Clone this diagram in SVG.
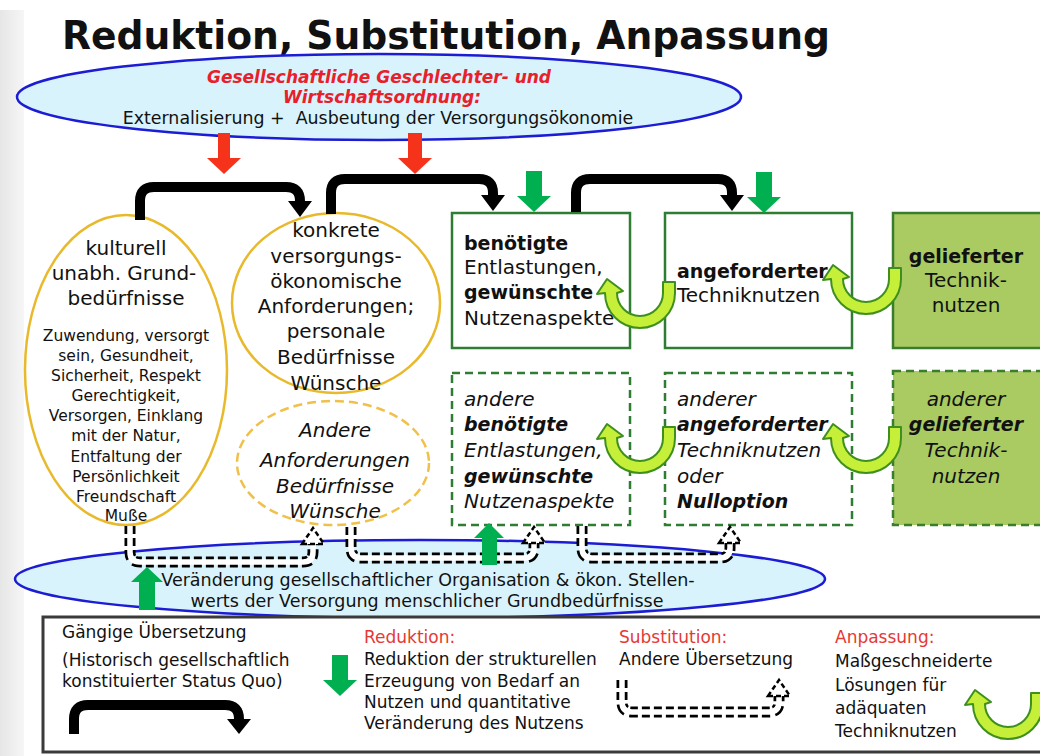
<svg xmlns="http://www.w3.org/2000/svg" width="1040" height="756" viewBox="0 0 1040 756">
<style>
text{font-family:"DejaVu Sans",Verdana,sans-serif;fill:#111}
.t20{font-size:20px}
.b19{font-size:19px;font-weight:bold}
.i20{font-size:20px;font-style:italic}
.bi19{font-size:19px;font-weight:bold;font-style:italic}
.s15{font-size:15.5px}
.lg{font-size:17px}
.red{fill:#e53935}
.mid{text-anchor:middle}
.ell{fill:#d8f3fc;stroke:#1c1cd4;stroke-width:2.5}
.gold{fill:#fff;stroke:#e9b92c;stroke-width:2.5}
.goldd{fill:#fff;stroke:#f0c04a;stroke-width:2.5;stroke-dasharray:9 5}
.box{fill:#fff;stroke:#2e7d32;stroke-width:2.5}
.boxd{fill:#fff;stroke:#2e7d32;stroke-width:2.5;stroke-dasharray:8 5}
.boxf{fill:#a9cb61;stroke:#3a7d2c;stroke-width:2.5}
.boxfd{fill:#a9cb61;stroke:#3a7d2c;stroke-width:2.5;stroke-dasharray:8 5}
.blk{fill:none;stroke:#000;stroke-width:10;stroke-linejoin:round}
.blkh{fill:#000}
.dsho{fill:none;stroke:#000;stroke-width:11;stroke-dasharray:8 4}
.dshi{fill:none;stroke:#fff;stroke-width:5.5}
.dshh{fill:#fff;stroke:#000;stroke-width:2.5;stroke-dasharray:5 3}
.grn{fill:#00b050}
.rd{fill:#f5331b}
.u{fill:#c6ef3a;stroke:#3f8f1f;stroke-width:2;stroke-linejoin:round}
</style>
<defs>
<linearGradient id="lg" x1="0" y1="0" x2="1" y2="0">
<stop offset="0" stop-color="#e6e6e6"/>
<stop offset="1" stop-color="#f6f6f6"/>
</linearGradient>
<path id="uarr" d="M35,-11 V0 A35,35 0 0 1 -35,0 L-43,1 L-33,-14 L-17,-2 L-23,0 A23,23 0 0 0 23,0 V-11 Z"/>
<polygon id="gdown" points="-8,0 8,0 8,25 17,25 0,41 -17,25 -8,25"/>
</defs>
<rect x="0" y="0" width="1040" height="756" fill="#fff"/>
<rect x="0" y="10" width="24" height="746" fill="url(#lg)"/>

<text x="62" y="49" font-size="39" font-weight="bold" textLength="768" lengthAdjust="spacingAndGlyphs">Reduktion, Substitution, Anpassung</text>

<g id="top-ellipse">
<ellipse class="ell" cx="379" cy="97" rx="362" ry="43"/>
<text class="red mid" x="379" y="83" font-size="17" font-weight="bold" font-style="italic" style="fill:#e8202a">Gesellschaftliche Geschlechter- und</text>
<text class="red mid" x="382" y="103" font-size="17" font-weight="bold" font-style="italic" style="fill:#e8202a">Wirtschaftsordnung:</text>
<text class="mid" x="378" y="124" font-size="17.4" xml:space="preserve">Externalisierung +  Ausbeutung der Versorgungsökonomie</text>
</g>

<g id="bottom-ellipse">
<ellipse class="ell" cx="420" cy="579" rx="405" ry="39"/>
</g>

<g id="n-kulturell">
<ellipse class="gold" cx="126" cy="370" rx="101" ry="155"/>
<text class="t20 mid" x="126" y="255">kulturell</text>
<text class="t20 mid" x="124" y="280">unabh. Grund-</text>
<text class="t20 mid" x="126" y="305">bedürfnisse</text>
<text class="s15 mid" x="126" y="341">Zuwendung, versorgt</text>
<text class="s15 mid" x="126" y="361">sein, Gesundheit,</text>
<text class="s15 mid" x="126" y="381">Sicherheit, Respekt</text>
<text class="s15 mid" x="126" y="401">Gerechtigkeit,</text>
<text class="s15 mid" x="126" y="421">Versorgen, Einklang</text>
<text class="s15 mid" x="126" y="441">mit der Natur,</text>
<text class="s15 mid" x="126" y="462">Entfaltung der</text>
<text class="s15 mid" x="126" y="482">Persönlichkeit</text>
<text class="s15 mid" x="126" y="502">Freundschaft</text>
<text class="s15 mid" x="126" y="521">Muße</text>
</g>

<g id="n-konkrete">
<ellipse class="gold" cx="336" cy="303" rx="104" ry="90"/>
<text class="t20 mid" x="336" y="237">konkrete</text>
<text class="t20 mid" x="336" y="263">versorgungs-</text>
<text class="t20 mid" x="336" y="288">ökonomische</text>
<text class="t20 mid" x="336" y="313">Anforderungen;</text>
<text class="t20 mid" x="336" y="338">personale</text>
<text class="t20 mid" x="336" y="364">Bedürfnisse</text>
<text class="t20 mid" x="336" y="390">Wünsche</text>
</g>

<g id="n-andere-anf">
<ellipse class="goldd" cx="333" cy="463" rx="96" ry="62"/>
<text class="i20 mid" x="335" y="437">Andere</text>
<text class="i20 mid" x="335" y="467">Anforderungen</text>
<text class="i20 mid" x="335" y="493">Bedürfnisse</text>
<text class="i20 mid" x="335" y="518">Wünsche</text>
</g>

<g id="n-benoetigte">
<rect class="box" x="452" y="213" width="178" height="135"/>
<text class="b19" x="464" y="250">benötigte</text>
<text class="t20" x="464" y="274">Entlastungen,</text>
<text class="b19" x="464" y="299">gewünschte</text>
<text class="t20" x="464" y="325">Nutzenaspekte</text>
</g>

<g id="n-angeforderter">
<rect class="box" x="665" y="213" width="187" height="135"/>
<text class="b19" x="677" y="278">angeforderter</text>
<text class="t20" x="677" y="302">Techniknutzen</text>
</g>

<g id="n-gelieferter">
<rect class="boxf" x="893" y="213" width="160" height="135"/>
<text class="b19 mid" x="966" y="263">gelieferter</text>
<text class="t20 mid" x="966" y="287">Technik-</text>
<text class="t20 mid" x="966" y="312">nutzen</text>
</g>

<g id="n-andere-benoetigte">
<rect class="boxd" x="452" y="373" width="178" height="152"/>
<text class="i20" x="464" y="406">andere</text>
<text class="bi19" x="464" y="431">benötigte</text>
<text class="i20" x="464" y="457">Entlastungen,</text>
<text class="bi19" x="464" y="483">gewünschte</text>
<text class="i20" x="464" y="508">Nutzenaspekte</text>
</g>

<g id="n-anderer-angeforderter">
<rect class="boxd" x="665" y="373" width="187" height="152"/>
<text class="i20" x="677" y="406">anderer</text>
<text class="bi19" x="677" y="431">angeforderter</text>
<text class="i20" x="677" y="457">Techniknutzen</text>
<text class="i20" x="677" y="483">oder</text>
<text class="bi19" x="677" y="508">Nulloption</text>
</g>

<g id="n-anderer-gelieferter">
<rect class="boxfd" x="893" y="371" width="160" height="154"/>
<text class="i20 mid" x="966" y="406">anderer</text>
<text class="bi19 mid" x="966" y="431">gelieferter</text>
<text class="i20 mid" x="966" y="457">Technik-</text>
<text class="i20 mid" x="966" y="483">nutzen</text>
</g>

<g id="connectors">
<polygon class="rd" points="218,133 230,133 230,158 241,158 224,174 207,158 218,158"/>
<polygon class="rd" points="408,133 422,133 422,158 432,158 415,174 398,158 408,158"/>
<path class="blk" d="M140,220 V201 Q140,187 154,187 H286 Q300,187 300,201 V203"/>
<polygon class="blkh" points="288,201 312,201 300,217"/>
<path class="blk" d="M331,214 V193 Q331,179 345,179 H479 Q493,179 493,193 V196"/>
<polygon class="blkh" points="481,195 505,195 493,211"/>
<path class="blk" d="M576,212 V193 Q576,179 590,179 H718 Q732,179 732,193 V196"/>
<polygon class="blkh" points="720,195 744,195 732,211"/>
<use href="#gdown" class="grn" transform="translate(534,171)"/>
<use href="#gdown" class="grn" transform="translate(764,172)"/>
<use href="#uarr" class="u" transform="translate(640,293)"/>
<use href="#uarr" class="u" transform="translate(866,279)"/>
<use href="#uarr" class="u" transform="translate(640,438)"/>
<use href="#uarr" class="u" transform="translate(866,438)"/>
<path class="dsho" d="M130,526 V552 Q130,562 140,562 H303 Q313,562 313,552 V544"/>
<path class="dshi" d="M130,526 V552 Q130,562 140,562 H303 Q313,562 313,552 V544"/>
<polygon class="dshh" points="302,544 324,544 313,528"/>
<path class="dsho" d="M351,527 V548 Q351,558 361,558 H524 Q534,558 534,548 V543"/>
<path class="dshi" d="M351,527 V548 Q351,558 361,558 H524 Q534,558 534,548 V543"/>
<polygon class="dshh" points="523,543 545,543 534,527"/>
<path class="dsho" d="M582,526 V548 Q582,558 592,558 H720 Q730,558 730,548 V543"/>
<path class="dshi" d="M582,526 V548 Q582,558 592,558 H720 Q730,558 730,548 V543"/>
<polygon class="dshh" points="719,543 741,543 730,527"/>
<polygon class="grn" points="139,610 155,610 155,582 163,582 147,567 131,582 139,582"/>
<polygon class="grn" points="482,565 497,565 497,538 504,538 489,523 474,538 482,538"/>
</g>

<g id="bottom-ellipse-text">
<text class="mid" x="428" y="586" font-size="17.5">Veränderung gesellschaftlicher Organisation &amp; ökon. Stellen-</text>
<text class="mid" x="427" y="607" font-size="17.5">werts der Versorgung menschlicher Grundbedürfnisse</text>
</g>

<g id="legend">
<rect x="43" y="617" width="1010" height="135" fill="#fff" stroke="#3a3a3a" stroke-width="3"/>
<text class="lg" x="62" y="638">Gängige Übersetzung</text>
<text class="lg" x="62" y="666">(Historisch gesellschaftlich</text>
<text class="lg" x="62" y="687">konstituierter Status Quo)</text>
<path class="blk" d="M74,734 V719 Q74,705 88,705 H225 Q239,705 239,719 V720"/>
<polygon class="blkh" points="227,719 251,719 239,734"/>
<use href="#gdown" class="grn" transform="translate(340,655)"/>
<text class="lg red" x="364" y="643">Reduktion:</text>
<text class="lg" x="364" y="665">Reduktion der strukturellen</text>
<text class="lg" x="364" y="687">Erzeugung von Bedarf an</text>
<text class="lg" x="364" y="708">Nutzen und quantitative</text>
<text class="lg" x="364" y="729">Veränderung des Nutzens</text>
<text class="lg red" x="619" y="643">Substitution:</text>
<text class="lg" x="619" y="665">Andere Übersetzung</text>
<path class="dsho" d="M622,680 V702 Q622,712 632,712 H769 Q779,712 779,702 V696"/>
<path class="dshi" d="M622,680 V702 Q622,712 632,712 H769 Q779,712 779,702 V696"/>
<polygon class="dshh" points="768,696 790,696 779,680"/>
<text class="lg red" x="835" y="643">Anpassung:</text>
<text class="lg" x="835" y="667">Maßgeschneiderte</text>
<text class="lg" x="835" y="691">Lösungen für</text>
<text class="lg" x="835" y="714">adäquaten</text>
<text class="lg" x="835" y="737">Techniknutzen</text>
<use href="#uarr" class="u" transform="translate(1008,704)"/>
</g>
</svg>
